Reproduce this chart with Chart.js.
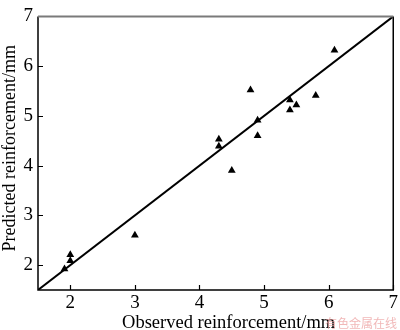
<!DOCTYPE html>
<html>
<head>
<meta charset="utf-8">
<script src="https://cdn.jsdelivr.net/npm/chart.js@4/dist/chart.umd.min.js"></script>
<style>
  html, body { margin: 0; padding: 0; background: #fff; }
  #wrap { width: 400px; height: 330px; }
</style>
</head>
<body>
<div id="wrap"><canvas id="scatterReinforcement"></canvas></div>
<script>
// measured vs. model-predicted reinforcement (mm)
const observed  = [1.91, 2.0, 2.0, 3.0, 4.3, 4.3, 4.5, 4.79, 4.9, 4.9, 5.4, 5.4, 5.5, 5.8, 6.09];
const predicted = [1.92, 2.09, 2.21, 2.6, 4.39, 4.53, 3.9, 5.52, 4.91, 4.6, 5.32, 5.12, 5.22, 5.41, 6.32];

// 1:1 reference line
const lineX = [1.5, 7];
const lineY = [1.5, 7];

const xTicks = [2, 3, 4, 5, 6, 7];
const yTicks = [2, 3, 4, 5, 6, 7];

const serif = "'Liberation Serif', 'DejaVu Serif', serif";

// inward tick marks, the frame round the plot and both axis captions
const frameAndTicks = {
    id: 'frameAndTicks',
    afterDatasetsDraw(chart) {
        const { ctx, chartArea: a, scales } = chart;
        ctx.save();
        ctx.strokeStyle = '#000';
        ctx.lineWidth = 1.2;
        ctx.beginPath();
        scales.x.ticks.forEach(t => {
            const px = Math.round(scales.x.getPixelForValue(t.value)) + 0.5;
            ctx.moveTo(px, a.bottom);
            ctx.lineTo(px, a.bottom - 5);
        });
        scales.y.ticks.forEach(t => {
            const py = Math.round(scales.y.getPixelForValue(t.value)) + 0.5;
            ctx.moveTo(a.left, py);
            ctx.lineTo(a.left + 5, py);
        });
        ctx.stroke();

        ctx.lineWidth = 1.5;
        ctx.beginPath();
        ctx.moveTo(a.left, a.top);
        ctx.lineTo(a.left, a.bottom);
        ctx.lineTo(a.right, a.bottom);
        ctx.lineTo(a.right, a.top);
        ctx.stroke();

        ctx.strokeStyle = '#7a7a7a';
        ctx.lineWidth = 2;
        ctx.beginPath();
        ctx.moveTo(a.left, a.top);
        ctx.lineTo(a.right, a.top);
        ctx.stroke();

        ctx.fillStyle = '#000';
        ctx.textAlign = 'center';
        ctx.textBaseline = 'alphabetic';

        // x caption sits a little right of the plot centre
        ctx.font = '18.5px ' + serif;
        ctx.fillText('Observed reinforcement/mm', (a.left + a.right) / 2 + 13, 328);

        // y caption, rotated, a little above the plot centre
        ctx.save();
        ctx.translate(15, (a.top + a.bottom) / 2 - 5);
        ctx.rotate(-Math.PI / 2);
        ctx.font = '18px ' + serif;
        ctx.fillText('Predicted reinforcement/mm', 0, 0);
        ctx.restore();

        // site mark in the corner
        ctx.fillStyle = 'rgba(236, 160, 160, 0.75)';
        ctx.font = "12px 'Noto Sans CJK SC'";
        ctx.textAlign = 'right';
        ctx.textBaseline = 'bottom';
        ctx.fillText('有色金属在线', 397, 329);
        ctx.restore();
    }
};

const ctx = document.getElementById('scatterReinforcement').getContext('2d');
const chart = new Chart(ctx, {
    type: 'scatter',
    data: {
        datasets: [{
            label: 'Samples',
            data: observed.map((v, i) => ({ x: v, y: predicted[i] })),
            pointStyle: 'triangle',
            pointRadius: 4.5,
            backgroundColor: '#000',
            borderColor: '#000',
            borderWidth: 0
        }, {
            type: 'line',
            label: '1:1',
            data: lineX.map((v, i) => ({ x: v, y: lineY[i] })),
            borderColor: '#000',
            borderWidth: 2,
            pointRadius: 0,
            fill: false
        }]
    },
    options: {
        responsive: true,
        maintainAspectRatio: false,
        animation: false,
        layout: { padding: { top: 2, right: 3, left: 0, bottom: 0 } },
        plugins: {
            legend: { display: false },
            tooltip: { enabled: false }
        },
        scales: {
            x: {
                type: 'linear',
                min: 1.5,
                max: 7,
                afterBuildTicks: s => { s.ticks = xTicks.map(v => ({ value: v })); },
                afterFit: s => { s.height = 40; },
                grid: { display: false, drawTicks: false },
                border: { display: false },
                ticks: { color: '#000', padding: 2, font: { family: serif, size: 19 } }
            },
            y: {
                type: 'linear',
                min: 1.5,
                max: 7,
                afterBuildTicks: s => { s.ticks = yTicks.map(v => ({ value: v })); },
                afterFit: s => { s.width = 38; },
                grid: { display: false, drawTicks: false },
                border: { display: false },
                ticks: { color: '#000', padding: 5, font: { family: serif, size: 19 } }
            }
        }
    },
    plugins: [frameAndTicks]
});
</script>
</body>
</html>
